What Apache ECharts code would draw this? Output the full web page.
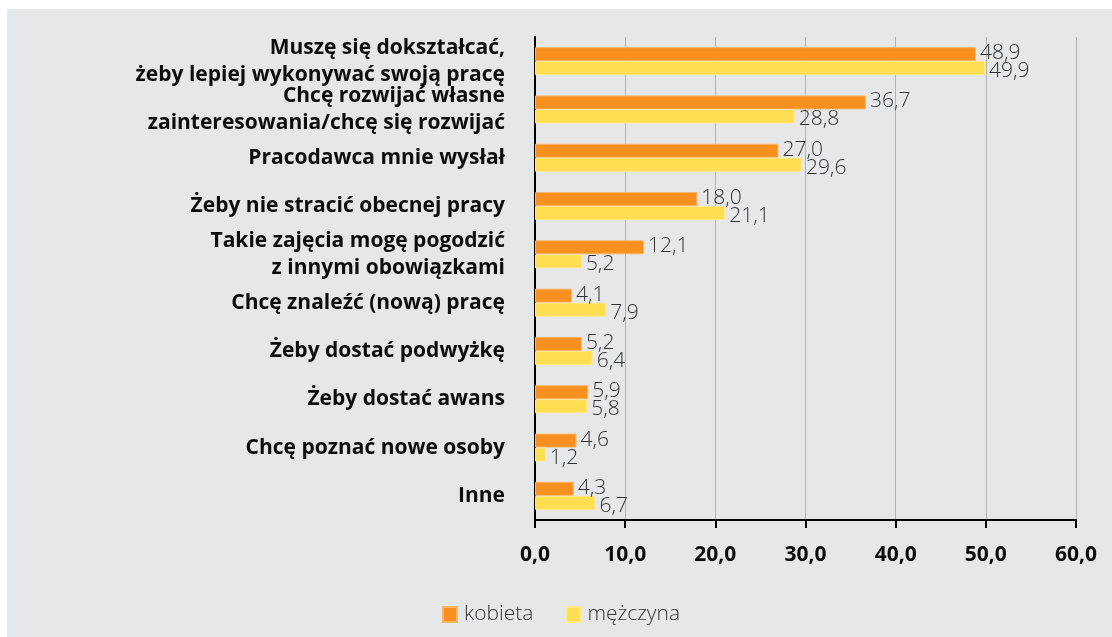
<!DOCTYPE html>
<html>
<head>
<meta charset="utf-8">
<script src="https://cdn.jsdelivr.net/npm/echarts@6/dist/echarts.min.js"></script>
<style>
  html, body { margin: 0; padding: 0; background: #fff; }
  #chart { position: absolute; left: 7px; top: 9px; width: 1105px; height: 628px; background: #e6e7e8; }
</style>
</head>
<body>
<div id="chart"></div>
<script>
// kategorie (od góry)
var categories = [
  'Muszę się dokształcać,\nżeby lepiej wykonywać swoją pracę',
  'Chcę rozwijać własne\nzainteresowania/chcę się rozwijać',
  'Pracodawca mnie wysłał',
  'Żeby nie stracić obecnej pracy',
  'Takie zajęcia mogę pogodzić\nz innymi obowiązkami',
  'Chcę znaleźć (nową) pracę',
  'Żeby dostać podwyżkę',
  'Żeby dostać awans',
  'Chcę poznać nowe osoby',
  'Inne'
]
var kobieta = [48.9, 36.7, 27.0, 18.0, 12.1, 4.1, 5.2, 5.9, 4.6, 4.3]
var mezczyzna = [49.9, 28.8, 29.6, 21.1, 5.2, 7.9, 6.4, 5.8, 1.2, 6.7]
var xTicks = [0, 10, 20, 30, 40, 50, 60]

var fmt = function(v) {
  return Number(v).toFixed(1).replace('.', ',')
}

// dwuwierszowe etykiety w oryginale są lekko przesunięte
var yData = categories.map(function(c, i) {
  if (i === 0) return { value: c, textStyle: { padding: [0, 0, 6, 0] } }
  if (c.indexOf('\n') >= 0) return { value: c, textStyle: { padding: [8, 0, 0, 0] } }
  return c
})

var myChart = echarts.init(document.getElementById('chart'))
myChart.setOption({
  animation: false,
  textStyle: {
    fontFamily: 'Open Sans'
  },
  grid: {
    left: 528,
    right: 36,
    top: 28,
    bottom: 117
  },
  legend: {
    left: 430,
    top: 590,
    itemWidth: 14,
    itemHeight: 15,
    itemGap: 32,
    icon: 'rect',
    textStyle: {
      fontSize: 21,
      color: '#333',
      fontWeight: 300,
      padding: [0, 0, 0, 2]
    },
    data: ['kobieta', 'mężczyna']
  },
  xAxis: {
    type: 'value',
    min: xTicks[0],
    max: xTicks[xTicks.length - 1],
    interval: 10,
    axisLine: {
      show: true,
      lineStyle: { color: '#000', width: 2 }
    },
    axisTick: {
      show: true,
      length: 8,
      lineStyle: { color: '#000', width: 2 }
    },
    splitLine: {
      lineStyle: { color: '#b3b3b3', width: 1 }
    },
    axisLabel: {
      margin: 25,
      fontSize: 21,
      fontWeight: 'bold',
      color: '#0d0d0d',
      formatter: fmt
    }
  },
  yAxis: {
    type: 'category',
    inverse: true,
    data: yData,
    axisLine: {
      show: true,
      lineStyle: { color: '#000', width: 2 }
    },
    axisTick: { show: false },
    axisLabel: {
      interval: 0,
      margin: 30,
      fontSize: 21,
      fontWeight: 'bold',
      color: '#0d0d0d',
      lineHeight: 27,
      align: 'right'
    }
  },
  series: [{
    name: 'kobieta',
    type: 'bar',
    data: kobieta,
    barWidth: 14,
    barGap: '0%',
    itemStyle: {
      color: '#f7901e',
      borderColor: '#fbb46a',
      borderWidth: 1
    },
    label: {
      show: true,
      position: 'right',
      distance: 4,
      offset: [0, -1],
      fontSize: 21,
      color: '#333',
      fontWeight: 300,
      formatter: function(p) { return fmt(p.value) }
    }
  }, {
    name: 'mężczyna',
    type: 'bar',
    data: mezczyzna,
    barWidth: 14,
    barGap: '0%',
    itemStyle: {
      color: '#ffde52',
      borderColor: '#ffe98a',
      borderWidth: 1
    },
    label: {
      show: true,
      position: 'right',
      distance: 4,
      offset: [0, 3],
      fontSize: 21,
      color: '#333',
      fontWeight: 300,
      formatter: function(p) { return fmt(p.value) }
    }
  }]
})
</script>
</body>
</html>
